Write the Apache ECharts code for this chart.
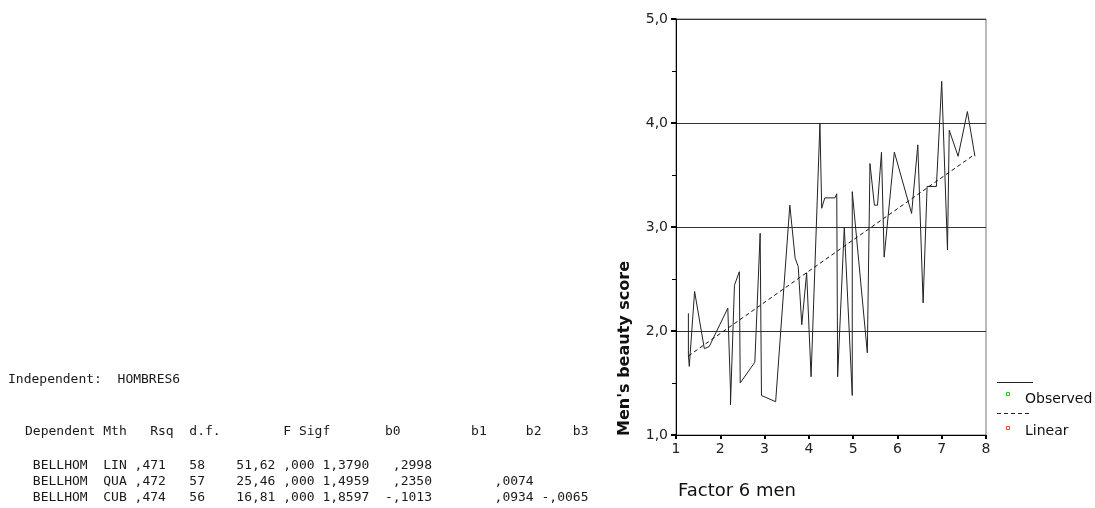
<!DOCTYPE html>
<html>
<head>
<meta charset="utf-8">
<script src="https://cdn.jsdelivr.net/npm/echarts@6/dist/echarts.min.js"></script>
<style>
  html, body { margin: 0; padding: 0; background: #fff; }
  #main { width: 1095px; height: 508px; }
</style>
</head>
<body>
<div id="main"></div>
<script>
// observed curve (sorted by factor score)
var obsX = [1.28, 1.28, 1.30, 1.42, 1.64, 1.75, 2.17, 2.23, 2.23, 2.32, 2.43, 2.45, 2.78, 2.90, 2.93,
            3.25, 3.57, 3.69, 3.76, 3.84, 3.95, 4.05, 4.25, 4.29, 4.36, 4.59, 4.63, 4.65, 4.80, 4.98,
            4.98, 5.32, 5.38, 5.48, 5.55, 5.64, 5.70, 5.93, 6.32, 6.46, 6.58, 6.67, 6.88, 7.00, 7.13,
            7.17, 7.37, 7.58, 7.75];
var obsY = [2.17, 1.77, 1.66, 2.38, 1.83, 1.85, 2.22, 1.43, 1.29, 2.44, 2.57, 1.50, 1.70, 2.94, 1.38,
            1.32, 3.21, 2.70, 2.62, 2.06, 2.56, 1.56, 4.00, 3.18, 3.28, 3.28, 3.32, 1.56, 3.00, 1.38,
            3.34, 1.79, 3.61, 3.21, 3.21, 3.72, 2.71, 3.72, 3.13, 3.79, 2.27, 3.39, 3.39, 4.40, 2.78,
            3.93, 3.68, 4.11, 3.68];
// linear fit, ends
var fitX = [1.28, 7.75];
var fitY = [1.76, 3.70];

// SPSS curve fit table
var independentLabel = ['Independent:', 'HOMBRES6'];
var tableHeader = ['Dependent', 'Mth', 'Rsq', 'd.f.', 'F', 'Sigf', 'b0', 'b1', 'b2', 'b3'];
var tableRows = [
    ['BELLHOM', 'LIN', ',471', '58', '51,62', ',000', '1,3790', ',2998', '', ''],
    ['BELLHOM', 'QUA', ',472', '57', '25,46', ',000', '1,4959', ',2350', ',0074', ''],
    ['BELLHOM', 'CUB', ',474', '56', '16,81', ',000', '1,8597', '-,1013', ',0934', '-,0065']
];

var xName = 'Factor 6 men';
var yName = "Men's beauty score";
var legendNames = ['Observed', 'Linear'];

var myChart = echarts.init(document.getElementById('main'));

var mono = 'DejaVu Sans Mono';
var sans = 'DejaVu Sans';
var fontPx = 13;
var cw = fontPx * 0.602;          // monospace char width
var tableX = 25;
// character columns of the fixed-width listing
var headerCol = [0, 10, 16, 21, 33, 35, 46, 57, 64, 70];
var rowEndCol = [7, 12, 17, 22, 31, 36, 43, 51, 64, 71];   // values end in these columns
var rowY = [466, 482, 498];

function monoText(str, x, y) {
    return {
        type: 'text', x: x, y: y,
        style: { text: str, font: fontPx + 'px ' + mono, fill: '#1a1a1a', textVerticalAlign: 'middle' }
    };
}

var graphics = [];
graphics.push(monoText(independentLabel[0], 8, 380));
graphics.push(monoText(independentLabel[1], 8 + 14 * cw, 380));
tableHeader.forEach(function (t, i) {
    graphics.push(monoText(t, tableX + headerCol[i] * cw, 432));
});
tableRows.forEach(function (row, r) {
    row.forEach(function (t, i) {
        if (!t) return;
        var col = rowEndCol[i] - t.length + 1;
        graphics.push(monoText(t, tableX + col * cw, rowY[r]));
    });
});

// axis titles
graphics.push({
    type: 'text', x: 678, y: 491,
    style: { text: xName, font: '18px ' + sans, fill: '#111', textVerticalAlign: 'middle' }
});
graphics.push({
    type: 'text', x: 625, y: 436, rotation: Math.PI / 2,
    style: { text: yName, font: 'bold 16px ' + sans, fill: '#111', textVerticalAlign: 'middle', textAlign: 'left' }
});

// legend
graphics.push({ type: 'line', shape: { x1: 997, y1: 382.5, x2: 1033, y2: 382.5 }, style: { stroke: '#222', lineWidth: 1 } });
graphics.push({ type: 'rect', shape: { x: 1006.5, y: 392.5, width: 3, height: 3 }, style: { stroke: '#22cc22', fill: '#fff', lineWidth: 1 } });
graphics.push({ type: 'text', x: 1025, y: 399, style: { text: legendNames[0], font: '14px ' + sans, fill: '#111', textVerticalAlign: 'middle' } });
graphics.push({ type: 'line', shape: { x1: 997, y1: 413.5, x2: 1031, y2: 413.5 }, style: { stroke: '#222', lineWidth: 1, lineDash: [4, 3] } });
graphics.push({ type: 'rect', shape: { x: 1006.5, y: 426.5, width: 3, height: 3 }, style: { stroke: '#ee4422', fill: '#fff', lineWidth: 1 } });
graphics.push({ type: 'text', x: 1025, y: 431, style: { text: legendNames[1], font: '14px ' + sans, fill: '#111', textVerticalAlign: 'middle' } });

var option = {
    animation: false,
    grid: {
        left: 676,
        right: 109,
        top: 19,
        bottom: 73,
        show: true,
        borderColor: '#777',
        borderWidth: 1
    },
    xAxis: {
        type: 'value',
        min: 1,
        max: 8,
        interval: 1,
        axisLine: { show: true, lineStyle: { color: '#000', width: 1 } },
        axisTick: { show: true, length: 4, lineStyle: { color: '#000', width: 2 } },
        axisLabel: { color: '#222', fontSize: 14, fontFamily: sans, margin: 7 },
        splitLine: { show: false }
    },
    yAxis: {
        type: 'value',
        min: 1,
        max: 5,
        interval: 1,
        axisLine: { show: true, lineStyle: { color: '#000', width: 1 } },
        axisTick: { show: true, length: 5, lineStyle: { color: '#000', width: 2 } },
        minorTick: { show: true, splitNumber: 2, length: 4, lineStyle: { color: '#000', width: 1 } },
        axisLabel: {
            color: '#222', fontSize: 14, fontFamily: sans, margin: 8,
            formatter: function (v) { return v.toFixed(1).replace('.', ','); }
        },
        splitLine: { show: true, lineStyle: { color: '#333', width: 1 } }
    },
    series: [{
        name: legendNames[0],
        type: 'line',
        showSymbol: false,
        lineStyle: { color: '#222', width: 1 },
        data: obsX.map(function (x, i) { return [x, obsY[i]]; })
    }, {
        name: legendNames[1],
        type: 'line',
        showSymbol: false,
        lineStyle: { color: '#111', width: 1, type: [4, 3] },
        data: fitX.map(function (x, i) { return [x, fitY[i]]; })
    }],
    graphic: graphics
};

myChart.setOption(option);
</script>
</body>
</html>
